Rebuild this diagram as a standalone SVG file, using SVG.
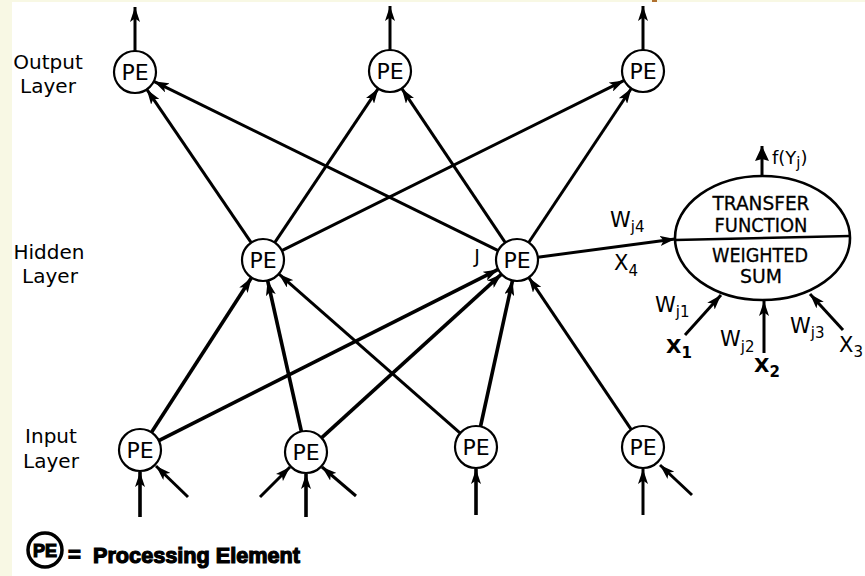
<svg xmlns="http://www.w3.org/2000/svg" width="865" height="576" viewBox="0 0 865 576">
  <style>
    .node circle { fill: #fff; stroke: #000; stroke-width: 2.2; }
    .pe { font-family: "DejaVu Sans", "Liberation Sans", sans-serif; font-size: 22px; text-anchor: middle; fill: #000; }
    .lbl { font-family: "DejaVu Sans", "Liberation Sans", sans-serif; font-size: 20px; text-anchor: middle; fill: #000; }
    .conn line { stroke: #000; stroke-width: 3; fill: none; marker-end: url(#arrow); }
    .conn line.thick { stroke-width: 3.6; }
    .etext { font-family: "DejaVu Sans", "Liberation Sans", sans-serif; font-size: 19px; text-anchor: middle; fill: #000; stroke: #000; stroke-width: 0.3; }
    .w { font-family: "DejaVu Sans", "Liberation Sans", sans-serif; font-size: 21px; fill: #000; }
    .sub { font-size: 15px; }
    .xb { font-family: "DejaVu Sans", "Liberation Sans", sans-serif; font-size: 20px; font-weight: bold; fill: #000; }
    .legend { font-family: "Liberation Sans", Arial, sans-serif; font-weight: bold; fill: #000; stroke: #000; stroke-width: 1.2; }
  </style>
  <defs>
    <marker id="arrow" viewBox="0 0 15 10" refX="15" refY="5" markerWidth="15" markerHeight="10" markerUnits="userSpaceOnUse" orient="auto">
      <path d="M0,0 L15,5 L0,10 L3.5,5 z" fill="#000"/>
    </marker>
    <marker id="arrowBig" viewBox="0 0 15 14" refX="15" refY="7" markerWidth="15" markerHeight="14" markerUnits="userSpaceOnUse" orient="auto">
      <path d="M0,0 L15,7 L0,14 L2,7 z" fill="#000"/>
    </marker>
  </defs>

  <!-- page background -->
  <rect x="0" y="0" width="865" height="576" fill="#fff"/>
  <rect x="0" y="0" width="12" height="576" fill="#F8F8E4"/>
  <rect x="0" y="0" width="865" height="2" fill="#F8F8E4"/>
  <rect x="652" y="0" width="5" height="2" fill="#B07030"/>

  <!-- layer labels -->
  <g id="layer-labels">
    <text class="lbl" x="48" y="69">Output</text>
    <text class="lbl" x="48" y="93">Layer</text>
    <text class="lbl" x="49" y="259">Hidden</text>
    <text class="lbl" x="50" y="283">Layer</text>
    <text class="lbl" x="51" y="443">Input</text>
    <text class="lbl" x="51" y="468">Layer</text>
  </g>

  <!-- connectors -->
  <g id="connectors" class="conn">
    <!-- external inputs -->
    <line class="thick" x1="140" y1="517" x2="140" y2="472"/>
    <line x1="188" y1="497" x2="156" y2="466"/>
    <line x1="260" y1="497" x2="290" y2="467"/>
    <line class="thick" x1="306" y1="517" x2="306" y2="474"/>
    <line x1="356" y1="496" x2="322" y2="467"/>
    <line class="thick" x1="476" y1="515" x2="476" y2="469"/>
    <line x1="643" y1="515" x2="643" y2="469"/>
    <line x1="692" y1="495" x2="660" y2="465"/>
    <!-- input to hidden -->
    <line class="thick" x1="151.4" y1="432.4" x2="251.6" y2="277.6"/>
    <line class="thick" x1="158.8" y1="440.6" x2="498.2" y2="269.4"/>
    <line class="thick" x1="301.4" y1="431.5" x2="267.6" y2="280.5"/>
    <line class="thick" x1="321.5" y1="437.9" x2="501.5" y2="274.1"/>
    <line x1="460.2" y1="433.1" x2="278.8" y2="273.9"/>
    <line class="thick" x1="480.5" y1="426.5" x2="512.5" y2="280.5"/>
    <line x1="631.3" y1="429.6" x2="528.7" y2="277.4"/>
    <!-- hidden to output -->
    <line x1="251.2" y1="242.6" x2="146.8" y2="89.4"/>
    <line x1="274.7" y1="242.6" x2="378.3" y2="88.4"/>
    <line x1="281.8" y1="250.6" x2="624.2" y2="80.4"/>
    <line x1="498.2" y1="250.7" x2="153.8" y2="81.3"/>
    <line x1="505.3" y1="242.6" x2="401.7" y2="88.4"/>
    <line x1="528.7" y1="242.5" x2="631.3" y2="88.5"/>
    <!-- outputs -->
    <line x1="135" y1="51" x2="135" y2="7"/>
    <line x1="390" y1="50" x2="390" y2="6"/>
    <line x1="643" y1="50" x2="643" y2="6"/>
    <!-- hidden PE j to its detail view -->
    <line x1="537.8" y1="257.2" x2="675" y2="239"/>
    <!-- weighted inputs of the detail view -->
    <line x1="685" y1="335" x2="721" y2="295"/>
    <line x1="764" y1="353" x2="764" y2="301"/>
    <line x1="843" y1="330" x2="810" y2="294"/>
    <line x1="762" y1="176" x2="762" y2="146" style="marker-end:url(#arrowBig)"/>
  </g>

  <!-- output layer -->
  <g id="out1" class="node"><circle cx="135" cy="72" r="21"/><text class="pe" x="135" y="80">PE</text></g>
  <g id="out2" class="node"><circle cx="390" cy="71" r="21"/><text class="pe" x="390" y="79">PE</text></g>
  <g id="out3" class="node"><circle cx="643" cy="71" r="21"/><text class="pe" x="643" y="79">PE</text></g>

  <!-- hidden layer -->
  <g id="hid1" class="node"><circle cx="263" cy="260" r="21"/><text class="pe" x="263" y="268">PE</text></g>
  <g id="hidj" class="node">
    <circle cx="517" cy="260" r="21"/><text class="pe" x="517" y="268">PE</text>
    <text class="pe" x="477" y="263" style="font-size:19px">J</text>
  </g>

  <!-- input layer -->
  <g id="in1" class="node"><circle cx="140" cy="450" r="21"/><text class="pe" x="140" y="458">PE</text></g>
  <g id="in2" class="node"><circle cx="306" cy="452" r="21"/><text class="pe" x="306" y="460">PE</text></g>
  <g id="in3" class="node"><circle cx="476" cy="447" r="21"/><text class="pe" x="476" y="455">PE</text></g>
  <g id="in4" class="node"><circle cx="643" cy="447" r="21"/><text class="pe" x="643" y="455">PE</text></g>

  <!-- detail of a processing element -->
  <g id="pe-detail">
    <ellipse cx="762.5" cy="238" rx="87.5" ry="62" fill="none" stroke="#000" stroke-width="2.6"/>
    <line x1="675" y1="240" x2="850" y2="236" stroke="#000" stroke-width="2.6"/>
    <text class="etext" x="761" y="210" textLength="97" lengthAdjust="spacingAndGlyphs">TRANSFER</text>
    <text class="etext" x="761" y="232" textLength="93" lengthAdjust="spacingAndGlyphs">FUNCTION</text>
    <text class="etext" x="760" y="262" textLength="96" lengthAdjust="spacingAndGlyphs">WEIGHTED</text>
    <text class="etext" x="761" y="283" textLength="42" lengthAdjust="spacingAndGlyphs">SUM</text>
    <text class="w" x="772" y="164" style="font-size:18px">f(Y<tspan class="sub" dy="4">j</tspan><tspan dy="-4">)</tspan></text>
  </g>

  <!-- weight and input labels -->
  <g id="weight-labels">
    <text class="w" x="610" y="227">W<tspan class="sub" dy="5">j4</tspan></text>
    <text class="w" x="614" y="270">X<tspan class="sub" dy="6">4</tspan></text>
    <text class="w" x="655" y="312">W<tspan class="sub" dy="5">j1</tspan></text>
    <text class="xb" x="666" y="353">X<tspan class="sub" dy="5">1</tspan></text>
    <text class="w" x="720" y="346">W<tspan class="sub" dy="6">j2</tspan></text>
    <text class="xb" x="754" y="372">X<tspan class="sub" dy="5">2</tspan></text>
    <text class="w" x="790" y="333">W<tspan class="sub" dy="5">j3</tspan></text>
    <text class="w" x="839" y="352">X<tspan class="sub" dy="5">3</tspan></text>
  </g>

  <!-- legend -->
  <g id="legend">
    <circle cx="45" cy="550" r="17" fill="#fff" stroke="#000" stroke-width="3.5"/>
    <text class="legend" x="45" y="557" text-anchor="middle" style="font-size:18px">PE</text>
    <text class="legend" x="68" y="562" style="font-size:22px">=</text>
    <text class="legend" x="93" y="563" style="font-size:22px" textLength="207" lengthAdjust="spacingAndGlyphs">Processing Element</text>
  </g>
</svg>
